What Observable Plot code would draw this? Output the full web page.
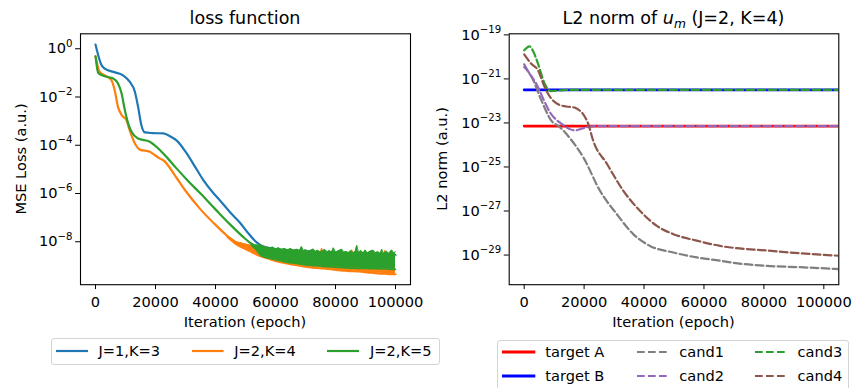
<!DOCTYPE html>
<html><head><meta charset="utf-8">
<script src="https://cdn.jsdelivr.net/npm/d3@7"></script>
<script src="https://cdn.jsdelivr.net/npm/@observablehq/plot@0.6"></script>
<style>
body{margin:0;background:#fff;font-family:"DejaVu Sans",sans-serif;}
#fig{position:relative;width:852px;height:388px;overflow:hidden;background:#fff;}
.t{position:absolute;white-space:nowrap;color:#000;line-height:1;}
.box{position:absolute;background:#fff;border:1px solid #d4d4d4;border-radius:3px;box-sizing:border-box;}
.fig-svg{position:absolute;top:0;}
</style></head><body><div id="fig"></div>
<script>
// ---------- data: left panel (loss function) ----------
const xTicks = [0, 20000, 40000, 60000, 80000, 100000];
const lossTicks = [1e0, 1e-2, 1e-4, 1e-6, 1e-8];
const lossSeries = ["J=1,K=3", "J=2,K=4", "J=2,K=5"];
const lossColors = ["#1f77b4", "#ff7f0e", "#2ca02c"];

const blueEpoch = [0, 2000, 3100, 6000, 9200, 11400, 13100, 14200, 15300, 16500, 19000, 22600, 25000, 27000, 30400, 33000, 36000, 39400, 41500, 45000, 48100, 51000, 53700, 56000, 60000, 70000, 80000, 90000, 100000];
const blueLoss = [1.5, 2.1e-1, 1.5e-1, 1.1e-1, 7.9e-2, 4.3e-2, 1.7e-2, 3.9e-3, 6.8e-4, 3.4e-4, 3.2e-4, 3.1e-4, 2.3e-4, 1.6e-4, 4.6e-5, 1.4e-5, 3.5e-6, 1.0e-6, 5.1e-7, 1.6e-7, 6.3e-8, 2.2e-8, 9.5e-9, 6.3e-9, 5.0e-9, 4.0e-9, 3.5e-9, 3.2e-9, 2.8e-9];

const orangeEpoch = [0, 1400, 3100, 5300, 6400, 7500, 8700, 10300, 11400, 13100, 14800, 18100, 19200, 21500, 22600, 27000, 30000, 35000, 40000, 44000];
const orangeLoss = [4.9e-1, 1.1e-1, 7.9e-2, 5.0e-2, 1.9e-2, 3.9e-3, 1.8e-3, 1.1e-3, 4.2e-4, 1.2e-4, 6.6e-5, 5.4e-5, 4.4e-5, 2.8e-5, 2.4e-5, 4.5e-6, 1.3e-6, 2.2e-7, 5.0e-8, 1.7e-8];
const orangeBandEpoch = [44000, 47000, 50000, 52000, 55000, 56000, 56600, 57200, 60000, 66500, 70000, 74800, 75400, 76000, 83200, 84800, 85400, 86000, 92000, 96000, 96500, 97000, 100000];
const orangeBandLow = [1.6e-8, 7.9e-9, 5.0e-9, 3.8e-9, 2.5e-9, 2.3e-9, 2.2e-9, 2.1e-9, 1.6e-9, 1.1e-9, 9.3e-10, 8.0e-10, 7.9e-10, 7.8e-10, 6.3e-10, 6.1e-10, 6.0e-10, 6.0e-10, 5.2e-10, 4.8e-10, 4.8e-10, 4.7e-10, 4.5e-10];
const orangeBandHigh = [1.8e-8, 1.0e-8, 8.0e-9, 7.0e-9, 5.5e-9, 5.0e-9, 6.6e-9, 4.8e-9, 4.2e-9, 3.6e-9, 3.4e-9, 3.2e-9, 5.4e-9, 3.2e-9, 3.0e-9, 3.0e-9, 4.7e-9, 3.0e-9, 2.9e-9, 2.8e-9, 4.4e-9, 2.8e-9, 2.7e-9];

const greenEpoch = [0, 900, 3100, 5900, 7500, 8700, 9800, 10900, 12000, 14200, 18100, 20400, 23100, 27000, 30700, 35000, 40000, 45000, 50000, 52000];
const greenLoss = [4.9e-1, 1.0e-1, 7.2e-2, 5.9e-2, 3.6e-2, 1.4e-2, 2.8e-3, 7.9e-4, 3.6e-4, 1.9e-4, 1.4e-4, 8.5e-5, 3.9e-5, 1.1e-5, 3.5e-6, 1.0e-6, 2.2e-7, 5.0e-8, 1.3e-8, 8.0e-9];
const greenBandEpoch = [52000, 53000, 54000, 55000, 56000, 57000, 58000, 59000, 60000, 61000, 62000, 63000, 64000, 65000, 66000, 67000, 68000, 68700, 69300, 70000, 71000, 72000, 72600, 73300, 74000, 75000, 76000, 76500, 77200, 78000, 78700, 79300, 80000, 81000, 82100, 82800, 83500, 84300, 85000, 86000, 86600, 87100, 87700, 88500, 89300, 89900, 90600, 91500, 92600, 93300, 94000, 95000, 95400, 96000, 97000, 97800, 98700, 99400, 100000];
const greenBandHigh = [8.9e-9, 7.6e-9, 7.2e-9, 7.6e-9, 6.2e-9, 6.0e-9, 5.4e-9, 6.0e-9, 5.0e-9, 5.6e-9, 4.8e-9, 5.3e-9, 4.6e-9, 5.2e-9, 4.4e-9, 4.9e-9, 4.3e-9, 6.3e-9, 4.2e-9, 4.7e-9, 4.0e-9, 4.6e-9, 5.0e-9, 3.9e-9, 4.4e-9, 3.8e-9, 4.4e-9, 4.8e-9, 3.8e-9, 4.3e-9, 3.7e-9, 5.6e-9, 3.7e-9, 4.2e-9, 4.9e-9, 3.6e-9, 4.0e-9, 3.5e-9, 4.2e-9, 3.5e-9, 4.0e-9, 7.1e-9, 3.5e-9, 4.3e-9, 3.4e-9, 4.6e-9, 3.4e-9, 4.0e-9, 4.5e-9, 3.4e-9, 3.9e-9, 3.3e-9, 4.9e-9, 3.3e-9, 4.0e-9, 3.3e-9, 4.6e-9, 3.4e-9, 3.8e-9];
const greenBandLow = [7.1e-9, 5.5e-9, 4.0e-9, 2.8e-9, 2.4e-9, 2.2e-9, 2.1e-9, 1.95e-9, 1.8e-9, 1.7e-9, 1.6e-9, 1.5e-9, 1.4e-9, 1.35e-9, 1.3e-9, 1.25e-9, 1.2e-9, 1.17e-9, 1.14e-9, 1.1e-9, 1.07e-9, 1.04e-9, 1.02e-9, 1.01e-9, 1.0e-9, 9.7e-10, 9.5e-10, 9.4e-10, 9.3e-10, 9.1e-10, 9.0e-10, 8.9e-10, 8.8e-10, 8.7e-10, 8.5e-10, 8.4e-10, 8.3e-10, 8.2e-10, 8.1e-10, 8.1e-10, 8.0e-10, 7.9e-10, 7.9e-10, 7.9e-10, 7.8e-10, 7.8e-10, 7.8e-10, 7.7e-10, 7.6e-10, 7.6e-10, 7.6e-10, 7.5e-10, 7.4e-10, 7.4e-10, 7.4e-10, 7.3e-10, 7.2e-10, 7.2e-10, 7.2e-10];

// ---------- data: right panel (L2 norm of u_m) ----------
const normTicks = [1e-19, 1e-21, 1e-23, 1e-25, 1e-27, 1e-29];
const normSeries = ["target A", "target B", "cand1", "cand2", "cand3", "cand4"];
const normColors = ["#ff0000", "#0000ff", "#7f7f7f", "#9467bd", "#2ca02c", "#8c564b"];

const targetEpoch = [0, 105000];
const targetA = [7.2e-24, 7.2e-24];
const targetB = [3.2e-22, 3.2e-22];

const cand1Epoch = [0, 2300, 5700, 9000, 12000, 15300, 19700, 25300, 30900, 36400, 42000, 49800, 57600, 65400, 69900, 81100, 92200, 105000];
const cand1 = [3.5e-21, 1.4e-21, 1.1e-22, 1.3e-23, 6.3e-24, 2.0e-24, 2.8e-25, 8.3e-27, 7.2e-28, 8.9e-29, 2.6e-29, 1.3e-29, 7.8e-30, 5.5e-30, 4.4e-30, 3.2e-30, 2.8e-30, 2.3e-30];

const cand2Epoch = [0, 1800, 4000, 6300, 8500, 12400, 16900, 21300, 25000, 105000];
const cand2 = [4.6e-21, 1.7e-21, 6.2e-22, 1.3e-22, 3.2e-23, 9.3e-24, 4.6e-24, 6.6e-24, 7.2e-24, 7.2e-24];

const cand3Epoch = [0, 1800, 3000, 4600, 6800, 9000, 12000, 15000, 105000];
const cand3 = [2.0e-20, 3.0e-20, 1.8e-20, 5.0e-21, 6.2e-22, 2.8e-22, 3.0e-22, 3.2e-22, 3.2e-22];

const cand4Epoch = [0, 2300, 4600, 6800, 9000, 11300, 14000, 16900, 18600, 19600, 21400, 23000, 27600, 33100, 38700, 44300, 49800, 57600, 65400, 81100, 92200, 105000];
const cand4 = [1.3e-20, 5.0e-21, 2.5e-21, 4.4e-22, 1.3e-22, 7.1e-23, 5.6e-23, 5.0e-23, 3.6e-23, 2.6e-23, 8.9e-24, 1.6e-24, 1.4e-25, 8.3e-27, 1.0e-27, 2.1e-28, 8.9e-29, 4.5e-29, 2.6e-29, 1.6e-29, 1.2e-29, 9.3e-30];

// ---------- helpers ----------
const rows = (xs, ys) => xs.map((x, i) => ({x, y: ys[i]}));
const bandRows = (xs, lo, hi) => xs.map((x, i) => ({x, lo: lo[i], hi: hi[i]}));
const fig = document.getElementById("fig");
const FS = 14.6;
const TFS = 17.5;

function supTicks(svg) {
  const ns = "http://www.w3.org/2000/svg";
  svg.querySelectorAll("text").forEach(t => {
    const m = /^10\^(-?\d+)$/.exec(t.textContent.trim());
    if (!m) return;
    t.textContent = "";
    const a = document.createElementNS(ns, "tspan");
    a.textContent = "10";
    const b = document.createElementNS(ns, "tspan");
    b.textContent = m[1].replace("-", "\u2212");
    b.setAttribute("dy", "-6.8");
    b.setAttribute("font-size", "10.2px");
    t.append(a, b);
  });
}
const fmtPow = d => "10^" + Math.round(Math.log10(d));

function common(marginLeft, marginRight, yDomain, yTicks) {
  return {
    width: 426, height: 340,
    marginLeft, marginRight, marginTop: 33.3, marginBottom: 55.8,
    style: {fontFamily: "DejaVu Sans", fontSize: FS + "px", color: "#000", background: "transparent", overflow: "visible"},
    x: {domain: [-5000, 105000], ticks: xTicks, tickFormat: d => String(d), label: null, tickSize: 4.9, tickPadding: 7},
    y: {type: "log", domain: yDomain, ticks: yTicks, tickFormat: fmtPow, label: null, tickSize: 4.9, tickPadding: 3}
  };
}
const smooth = "monotone-x";

// ---------- left plot ----------
const oBand = bandRows(orangeBandEpoch, orangeBandLow, orangeBandHigh);
const gBand = bandRows(greenBandEpoch, greenBandLow, greenBandHigh);
const left = Plot.plot({
  ...common(80, 16, [1.66e-10, 4.17], lossTicks),
  marks: [
    Plot.line(rows(blueEpoch, blueLoss), {x: "x", y: "y", stroke: lossColors[0], strokeWidth: 2.2, curve: smooth, clip: true}),
    Plot.line(rows(orangeEpoch, orangeLoss), {x: "x", y: "y", stroke: lossColors[1], strokeWidth: 2.2, curve: smooth, clip: true}),
    Plot.areaY(oBand, {x: "x", y1: "lo", y2: "hi", fill: lossColors[1], clip: true}),
    Plot.line(oBand, {x: "x", y: "lo", stroke: lossColors[1], strokeWidth: 2.2, curve: smooth, clip: true}),
    Plot.line(oBand, {x: "x", y: "hi", stroke: lossColors[1], strokeWidth: 1, clip: true}),
    Plot.line(rows(greenEpoch, greenLoss), {x: "x", y: "y", stroke: lossColors[2], strokeWidth: 2.2, curve: smooth, clip: true}),
    Plot.areaY(gBand, {x: "x", y1: "lo", y2: "hi", fill: lossColors[2], clip: true}),
    Plot.line(gBand, {x: "x", y: "lo", stroke: lossColors[2], strokeWidth: 1.6, curve: smooth, clip: true}),
    Plot.line(gBand, {x: "x", y: "hi", stroke: lossColors[2], strokeWidth: 1, clip: true}),
    Plot.frame({stroke: "#000", strokeWidth: 1.1})
  ]
});
left.classList.add("fig-svg");
left.style.left = "0px";
supTicks(left);
fig.appendChild(left);

// ---------- right plot ----------
const dash = "7.7,3.3";
const right = Plot.plot({
  ...common(82.7, 13.7, [4.5e-31, 1.12e-19], normTicks),
  marks: [
    Plot.line(rows(targetEpoch, targetA), {x: "x", y: "y", stroke: normColors[0], strokeWidth: 2.8, clip: true}),
    Plot.line(rows(targetEpoch, targetB), {x: "x", y: "y", stroke: normColors[1], strokeWidth: 2.8, clip: true}),
    Plot.line(rows(cand1Epoch, cand1), {x: "x", y: "y", stroke: normColors[2], strokeWidth: 2.2, strokeDasharray: dash, curve: smooth, clip: true}),
    Plot.line(rows(cand2Epoch, cand2), {x: "x", y: "y", stroke: normColors[3], strokeWidth: 2.2, strokeDasharray: dash, curve: smooth, clip: true}),
    Plot.line(rows(cand3Epoch, cand3), {x: "x", y: "y", stroke: normColors[4], strokeWidth: 2.2, strokeDasharray: dash, curve: smooth, clip: true}),
    Plot.line(rows(cand4Epoch, cand4), {x: "x", y: "y", stroke: normColors[5], strokeWidth: 2.2, strokeDasharray: dash, curve: smooth, clip: true}),
    Plot.frame({stroke: "#000", strokeWidth: 1.1})
  ]
});
right.classList.add("fig-svg");
right.style.left = "426px";
supTicks(right);
fig.appendChild(right);

// ---------- text ----------
function text(html, cx, baseline, size, rotate) {
  const d = document.createElement("div");
  d.className = "t";
  d.innerHTML = html;
  d.style.fontSize = size + "px";
  if (rotate) {
    const c = cx - (0.846 - 0.5) * size;
    d.style.left = c + "px";
    d.style.top = baseline + "px";
    d.style.transform = "translate(-50%,-50%) rotate(-90deg)";
  } else {
    d.style.left = cx + "px";
    d.style.top = (baseline - 0.846 * size) + "px";
    d.style.transform = "translateX(-50%)";
  }
  fig.appendChild(d);
  return d;
}
function textL(html, x, baseline, size) {
  const d = document.createElement("div");
  d.className = "t";
  d.innerHTML = html;
  d.style.fontSize = size + "px";
  d.style.left = x + "px";
  d.style.top = (baseline - 0.846 * size) + "px";
  fig.appendChild(d);
}
text("loss function", 245, 24.7, TFS);
text('L2 norm of <span style="font-style:italic">u</span><span style="font-style:italic;font-size:0.7em;position:relative;top:0.3em">m</span> (J=2, K=4)', 673.5, 24.7, TFS);
text("Iteration (epoch)", 245, 327.4, FS);
text("Iteration (epoch)", 673.5, 327.4, FS);
text("MSE Loss (a.u.)", 26.5, 158.7, FS, true);
text("L2 norm (a.u.)", 446.7, 158.8, FS, true);

// ---------- legends ----------
function box(x, y, w, h) {
  const d = document.createElement("div");
  d.className = "box";
  Object.assign(d.style, {left: x + "px", top: y + "px", width: w + "px", height: h + "px"});
  fig.appendChild(d);
}
function swatch(x1, x2, y, color, dashed, sw) {
  const ns = "http://www.w3.org/2000/svg";
  const s = document.createElementNS(ns, "svg");
  s.setAttribute("width", x2 - x1 + 2);
  s.setAttribute("height", 8);
  s.style.position = "absolute";
  s.style.left = (x1 - 1) + "px";
  s.style.top = (y - 4) + "px";
  const l = document.createElementNS(ns, "line");
  l.setAttribute("x1", 1); l.setAttribute("x2", x2 - x1 + 1);
  l.setAttribute("y1", 4); l.setAttribute("y2", 4);
  l.setAttribute("stroke", color);
  l.setAttribute("stroke-width", sw);
  if (dashed) l.setAttribute("stroke-dasharray", dash);
  s.appendChild(l);
  fig.appendChild(s);
}
box(50.7, 337.7, 389.5, 27);
const lx = [[55.7, 87.7, 98.5], [191.7, 223.3, 234.3], [327.3, 359.3, 370]];
lossSeries.forEach((name, i) => {
  swatch(lx[i][0], lx[i][1], 350.5, lossColors[i], false, 2.2);
  textL(name, lx[i][2], 356.5, FS);
});

box(497.3, 339.5, 351.5, 52);
const rx = [[501.7, 535, 545.3], [636.7, 666.7, 679.3], [755, 785, 797.5]];
const ry = [[352.3, 357.8], [375.7, 381.3]];
normSeries.forEach((name, i) => {
  const col = Math.floor(i / 2), row = i % 2;
  swatch(rx[col][0], rx[col][1], ry[row][0], normColors[i], i >= 2, i >= 2 ? 2.2 : 2.8);
  textL(name, rx[col][2], ry[row][1], FS);
});
</script></body></html>
